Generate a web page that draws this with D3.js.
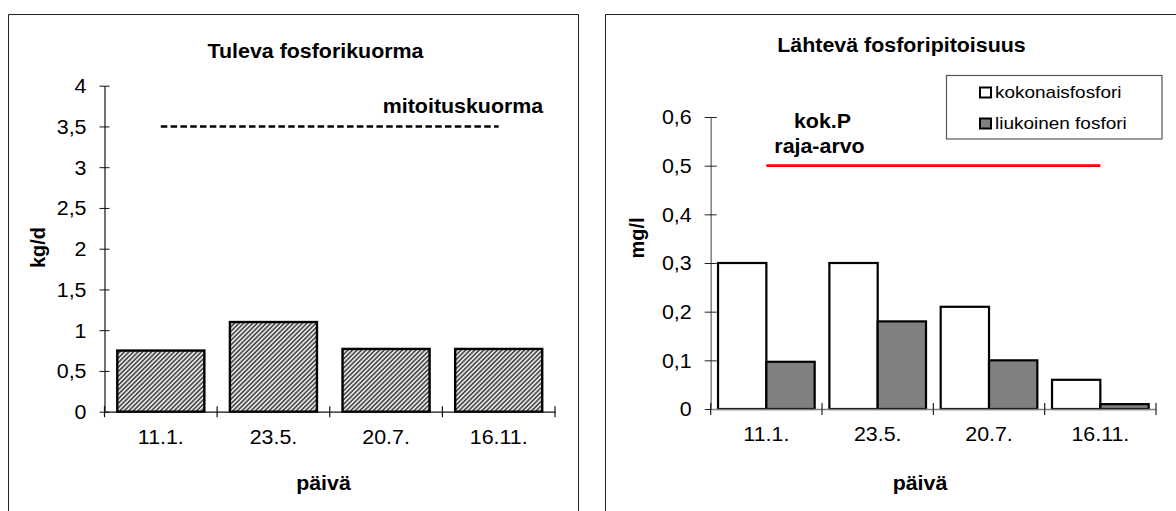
<!DOCTYPE html>
<html><head><meta charset="utf-8">
<script src="https://cdn.jsdelivr.net/npm/d3@7"></script>
<style>
body{margin:0;background:#fff}
svg{display:block}
text{font-family:"Liberation Sans",Arial,sans-serif;fill:#000}
</style>
</head><body>
<svg id="c" width="1176" height="511"></svg>
<script>
// ---- data ----
const dates = ["11.1.", "23.5.", "20.7.", "16.11."];
const incomingLoad = [0.75, 1.1, 0.77, 0.77];          // kg/d
const designLoad = 3.5;                                 // mitoituskuorma
const loadTicks = [0, 0.5, 1, 1.5, 2, 2.5, 3, 3.5, 4];
const loadTickLabels = ["0", "0,5", "1", "1,5", "2", "2,5", "3", "3,5", "4"];

const seriesNames = ["kokonaisfosfori", "liukoinen fosfori"];
const totalP = [0.30, 0.30, 0.21, 0.06];                // mg/l
const dissolvedP = [0.097, 0.18, 0.10, 0.01];           // mg/l
const limitTotalP = 0.5;                                // kok.P raja-arvo
const concTicks = [0, 0.1, 0.2, 0.3, 0.4, 0.5, 0.6];
const concTickLabels = ["0", "0,1", "0,2", "0,3", "0,4", "0,5", "0,6"];

// ---- helpers ----
const SX = 1.07;
const TICK_FS = 20;
const svg = d3.select("#c");
function label(x, y, s, o = {}) {
  return svg.append("text")
    .attr("transform", `translate(${x},${y}) ` + (o.rot ? `rotate(${o.rot})` : `scale(${o.sx || SX},1)`))
    .attr("text-anchor", o.anchor || "middle")
    .style("font-size", (o.size || 20) + "px")
    .style("font-weight", o.bold ? "bold" : "normal")
    .text(s);
}
function styleAxisText(g, size) {
  g.attr("font-size", null).attr("font-family", null);
  g.selectAll("text").style("font-size", size + "px").style("fill", "#000");
}

// hatch pattern
const defs = svg.append("defs");
const pat = defs.append("pattern").attr("id", "hatch")
  .attr("patternUnits", "userSpaceOnUse").attr("width", 3.2).attr("height", 3.2)
  .attr("patternTransform", "rotate(45)");
pat.append("rect").attr("width", 3.2).attr("height", 3.2).attr("fill", "#e4e4e4");
pat.append("line").attr("x1", 0.8).attr("y1", 0).attr("x2", 0.8).attr("y2", 3.2)
  .attr("stroke", "#2a2a2a").attr("stroke-width", 1.3);

// frames
svg.append("path").attr("d", "M8.5,530V14.5H578.5V530").attr("fill", "none").attr("stroke", "#222").attr("stroke-width", 1);
svg.append("path").attr("d", "M605.5,530V14.5H1190").attr("fill", "none").attr("stroke", "#222").attr("stroke-width", 1);

// ================= LEFT CHART =================
const xL = d3.scaleBand().domain(dates).range([104.5, 555]).paddingInner(0.227).paddingOuter(0.1135);
const yL = d3.scaleLinear().domain([0, 4]).range([411.7, 85.7]);

svg.append("g").selectAll("rect").data(incomingLoad).join("rect")
  .attr("x", (d, i) => xL(dates[i]))
  .attr("y", d => yL(d))
  .attr("width", xL.bandwidth())
  .attr("height", d => yL(0) - yL(d))
  .attr("fill", "url(#hatch)")
  .attr("stroke", "#000").attr("stroke-width", 2.4);

const gyL = svg.append("g").attr("transform", `translate(${xL.range()[0]},0)`)
  .call(d3.axisLeft(yL).tickValues(loadTicks).tickFormat((d, i) => loadTickLabels[i]).tickSizeInner(5).tickSizeOuter(0));
gyL.select(".domain").attr("stroke", "#111").attr("stroke-width", 1.2);
gyL.selectAll(".tick line").attr("x1", 5).attr("x2", -5).attr("stroke", "#111");
styleAxisText(gyL, TICK_FS);
gyL.selectAll(".tick text").attr("x", -18 / SX).attr("dy", "0.34em").attr("transform", `scale(${SX},1)`);

const gxL = svg.append("g").attr("transform", `translate(0,${yL(0)})`)
  .call(d3.axisBottom(xL).tickSize(0).tickPadding(0));
gxL.select(".domain").attr("stroke", "#111").attr("stroke-width", 1.2);
styleAxisText(gxL, TICK_FS);
gxL.selectAll(".tick text").attr("y", 32.5).attr("dy", null).attr("x", 0).attr("transform", `scale(${SX},1)`);
const bL = d3.range(dates.length + 1).map(i => xL.range()[0] + i * xL.step());
gxL.append("g").selectAll("line").data(bL).join("line")
  .attr("x1", d => d).attr("x2", d => d).attr("y1", -5.5).attr("y2", 5.5)
  .attr("stroke", "#111").attr("stroke-width", 1.2);

const cL = dates.map(d => xL(d) + xL.bandwidth() / 2);
svg.append("line")
  .attr("x1", cL[0]).attr("x2", cL[cL.length - 1])
  .attr("y1", yL(designLoad)).attr("y2", yL(designLoad))
  .attr("stroke", "#000").attr("stroke-width", 2.6).attr("stroke-dasharray", "6.5,3.3");

label(463, 113.3, "mitoituskuorma", { bold: true, size: 20 });
label(315.5, 57.7, "Tuleva fosforikuorma", { bold: true, size: 20 });
label(323.5, 490, "päivä", { bold: true, size: 20 });
label(44.6, 247.5, "kg/d", { bold: true, size: 20, rot: -90 });

// ================= RIGHT CHART =================
const xR = d3.scaleBand().domain(dates).range([710.7, 1156]);
const x1 = d3.scaleBand().domain(seriesNames).range([0, xR.bandwidth()]).paddingInner(0).paddingOuter(0.152);
const yR = d3.scaleLinear().domain([0, 0.6]).range([409, 117]);
const fills = ["#ffffff", "#808080"];
const seriesVals = [totalP, dissolvedP];

const groups = svg.append("g").selectAll("g").data(dates).join("g")
  .attr("transform", d => `translate(${xR(d)},0)`);
groups.selectAll("rect").data((d, i) => seriesNames.map((s, k) => ({ s, v: seriesVals[k][i], k })))
  .join("rect")
  .attr("x", d => x1(d.s))
  .attr("y", d => yR(d.v))
  .attr("width", x1.bandwidth())
  .attr("height", d => yR(0) - yR(d.v))
  .attr("fill", d => fills[d.k])
  .attr("stroke", "#000").attr("stroke-width", 2.2);

const gyR = svg.append("g").attr("transform", `translate(${xR.range()[0]},0)`)
  .call(d3.axisLeft(yR).tickValues(concTicks).tickFormat((d, i) => concTickLabels[i]).tickSizeInner(6).tickSizeOuter(0));
gyR.select(".domain").attr("stroke", "#808080").attr("stroke-width", 1.5);
gyR.selectAll(".tick line").attr("x1", 6).attr("x2", -6).attr("stroke", "#222");
styleAxisText(gyR, TICK_FS);
gyR.selectAll(".tick text").attr("x", -19 / SX).attr("dy", "0.34em").attr("transform", `scale(${SX},1)`);

const gxR = svg.append("g").attr("transform", `translate(0,${yR(0)})`)
  .call(d3.axisBottom(xR).tickSize(0).tickPadding(0));
gxR.select(".domain").attr("stroke", "#808080").attr("stroke-width", 1.5);
styleAxisText(gxR, TICK_FS);
gxR.selectAll(".tick text").attr("y", 32.5).attr("dy", null).attr("x", 0).attr("transform", `scale(${SX},1)`);
const bR = d3.range(dates.length + 1).map(i => xR.range()[0] + i * xR.step());
gxR.append("g").selectAll("line").data(bR).join("line")
  .attr("x1", d => d).attr("x2", d => d).attr("y1", -6).attr("y2", 6)
  .attr("stroke", "#222").attr("stroke-width", 1.2);

const cR = dates.map(d => xR(d) + xR.bandwidth() / 2);
svg.append("line")
  .attr("x1", cR[0]).attr("x2", cR[cR.length - 1])
  .attr("y1", yR(limitTotalP)).attr("y2", yR(limitTotalP))
  .attr("stroke", "#ff0000").attr("stroke-width", 2.8);

label(822.5, 128.3, "kok.P", { bold: true, size: 20 });
label(819.5, 153.3, "raja-arvo", { bold: true, size: 20 });
label(901.5, 52, "Lähtevä fosforipitoisuus", { bold: true, size: 20 });
label(920, 490, "päivä", { bold: true, size: 20 });
label(643.8, 238, "mg/l", { bold: true, size: 20, rot: -90 });

// legend
const lg = svg.append("g");
lg.append("rect").attr("x", 946.5).attr("y", 75.5).attr("width", 215.5).attr("height", 63.5)
  .attr("fill", "#fff").attr("stroke", "#555").attr("stroke-width", 1.2);
seriesNames.forEach((s, k) => {
  const by = 97.5 + k * 31;
  lg.append("rect").attr("x", 980).attr("y", by - 10).attr("width", 11).attr("height", 10)
    .attr("fill", fills[k]).attr("stroke", "#000").attr("stroke-width", 2);
  lg.append("text").attr("transform", `translate(995,${by}) scale(1.15,1)`)
    .style("font-size", "16.5px").text(s);
});
</script>
</body></html>
